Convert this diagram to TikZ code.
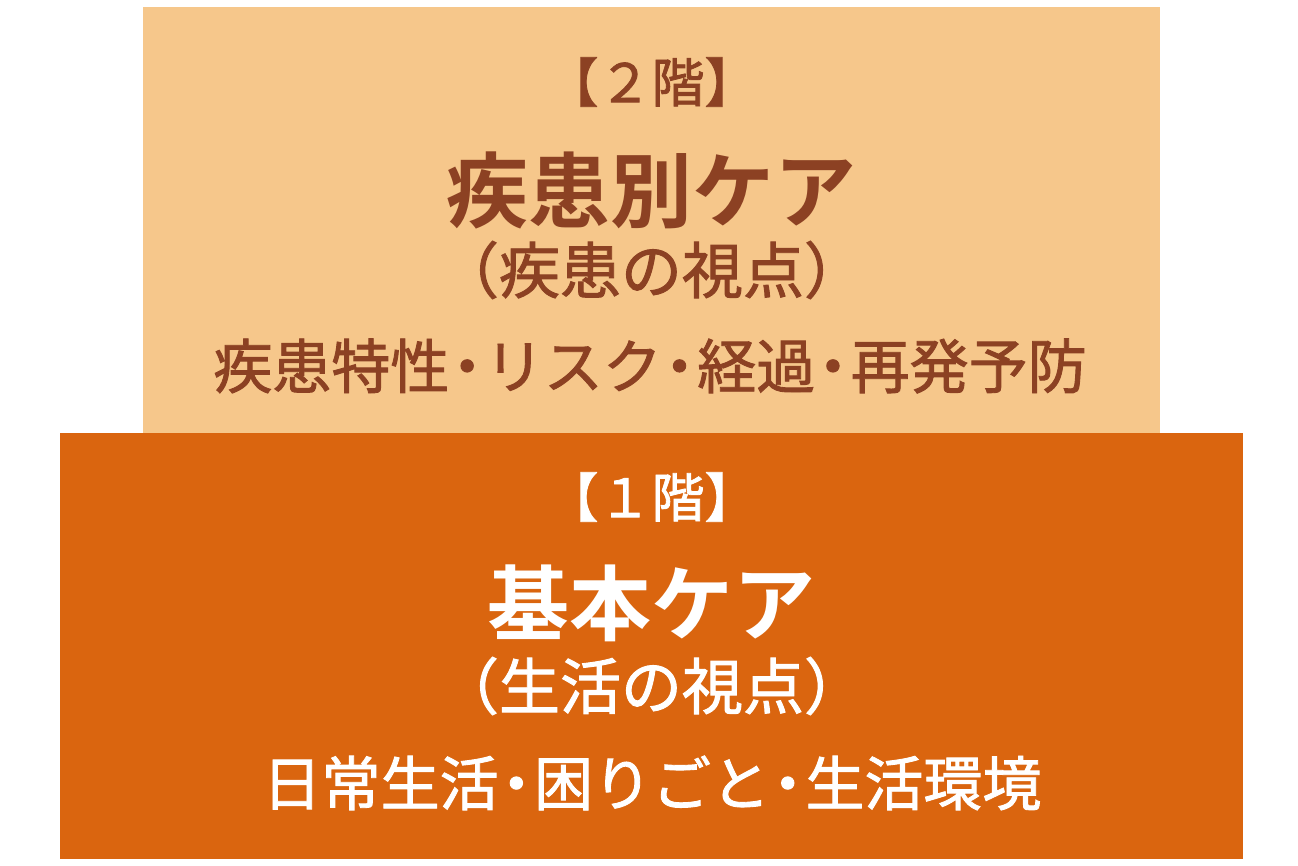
\documentclass[tikz,border=0pt]{standalone}
\usepackage{fontspec}
\newfontfamily\jp{Noto Sans CJK JP}[BoldFont={Noto Sans CJK JP Bold}]
\newfontfamily\jpm{Noto Sans CJK JP}[FakeBold=1.5]
\definecolor{upper}{HTML}{F6C78B}
\definecolor{lower}{HTML}{DA650F}
\definecolor{brown}{HTML}{8C4123}
\tikzset{
  lbl/.style={inner sep=0pt, anchor=center, font=\jpm},
  ttl/.style={inner sep=0pt, anchor=center, font=\jp\bfseries},
}
\newcommand{\fsz}[1]{\fontsize{#1}{#1}\selectfont}
\newcommand{\ndot}{\kern-0.2em・\kern-0.2em}
\begin{document}
\begin{tikzpicture}[x=1pt,y=-1pt]
\useasboundingbox (0,0) rectangle (1298,866);
\fill[upper] (143,7) rectangle (1160,433);
\fill[lower] (60,433) rectangle (1243,859);
% upper floor
\node[lbl, text=brown] (f2) at (651.5,82) {\fsz{53}【２階】};
\node[ttl, text=brown] (t2) at (651.5,190) {\fsz{82}疾患別ケア};
\node[lbl, text=brown] (s2) at (651.5,270) {\fsz{61}（疾患の視点）};
\node[lbl, text=brown] (d2) at (650,366) {\fsz{59}疾患特性\ndot リスク\ndot 経過\ndot 再発予防};
% lower floor
\node[lbl, text=white] (f1) at (651.5,497) {\fsz{53}【１階】};
\node[ttl, text=white] (t1) at (651.5,603) {\fsz{82}基本ケア};
\node[lbl, text=white] (s1) at (651.5,686) {\fsz{61}（生活の視点）};
\node[lbl, text=white] (d1) at (652,783) {\fsz{59}日常生活\ndot 困りごと\ndot 生活環境};
\end{tikzpicture}
\end{document}
